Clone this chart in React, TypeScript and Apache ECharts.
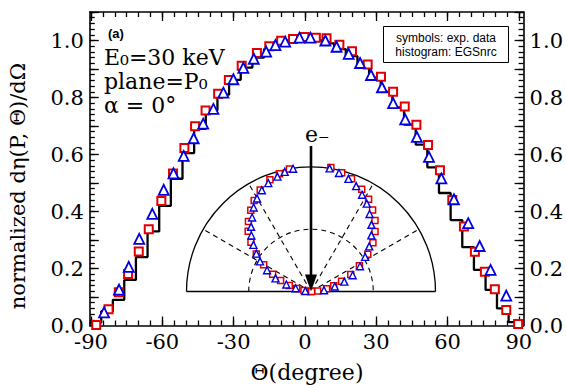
import React, { useEffect, useRef } from "react";
import * as echarts from "echarts";

// Experimental data (red squares)
const redDeg = [-87.8, -82.6, -78.3, -74.4, -69.9, -65.7, -60.4, -55.5, -50.7, -46.2, -41.8, -36.5, -32.0, -26.6, -20.2, -15.0, -10.0, -5.0, -0.2, 4.6, 9.1, 14.5, 19.8, 26.4, 32.0, 37.1, 42.0, 46.9, 51.8, 56.8, 62.0, 66.9, 71.5, 75.7, 79.9, 84.7, 89.7];
const redVal = [0.002, 0.057, 0.117, 0.181, 0.26, 0.338, 0.437, 0.533, 0.623, 0.699, 0.754, 0.813, 0.861, 0.911, 0.956, 0.98, 0.999, 1.005, 1.012, 1.01, 1.008, 0.985, 0.962, 0.916, 0.873, 0.82, 0.768, 0.704, 0.633, 0.545, 0.44, 0.347, 0.259, 0.189, 0.127, 0.054, 0.005];

// Experimental data (blue triangles)
const blueDeg = [-84.5, -78.2, -74.1, -69.7, -64.2, -59.4, -55.3, -51.0, -46.8, -42.8, -38.5, -34.3, -30.1, -25.9, -21.5, -16.3, -12.4, -8.3, -2.3, 2.3, 8.6, 13.3, 18.4, 23.2, 27.8, 32.4, 37.1, 42.2, 47.1, 52.2, 57.4, 62.7, 68.7, 73.5, 78.1, 84.7];
const blueVal = [0.046, 0.126, 0.206, 0.304, 0.392, 0.476, 0.534, 0.595, 0.657, 0.708, 0.76, 0.817, 0.864, 0.904, 0.936, 0.961, 0.984, 0.996, 1.01, 1.01, 1.0, 0.978, 0.953, 0.921, 0.879, 0.836, 0.78, 0.723, 0.662, 0.592, 0.516, 0.443, 0.359, 0.279, 0.195, 0.105];

// EGSnrc histogram: bin edges and bin heights
const histEdges = [-90.6, -85.7, -80.8, -76.0, -71.1, -66.2, -61.3, -56.4, -51.5, -46.6, -41.7, -36.8, -31.9, -27.0, -22.1, -17.2, -12.3, -7.4, -2.5, 2.5, 7.4, 12.3, 17.2, 22.1, 27.0, 31.9, 36.8, 41.7, 46.6, 51.5, 56.4, 61.3, 66.2, 71.1, 76.0, 80.8, 85.7, 90.6];
const histVal = [0.01, 0.05, 0.09, 0.16, 0.24, 0.33, 0.42, 0.515, 0.605, 0.69, 0.755, 0.81, 0.862, 0.905, 0.94, 0.97, 0.99, 1.0, 1.0, 1.0, 0.99, 0.97, 0.945, 0.91, 0.87, 0.82, 0.765, 0.705, 0.635, 0.555, 0.465, 0.37, 0.275, 0.195, 0.125, 0.06, 0.012];

const xTickLabels = [-90, -60, -30, 0, 30, 60, 90];
const yTickLabels = [0, 0.2, 0.4, 0.6, 0.8, 1.0];

const SERIF = "DejaVu Serif";
const SANS = "Liberation Sans";

export default function App() {
  const ref = useRef<HTMLDivElement>(null);
  useEffect(() => {
    document.body.style.margin = "0";
    const chart = echarts.init(ref.current!, null, { renderer: "svg" });

    const X0 = -90.5, X1 = 92;
    const xMinor: number[] = [];
    for (let t = -90; t <= 90; t += 5) xMinor.push(t);
    const yMajor: number[] = [];
    for (let i = 0; i <= 11; i++) yMajor.push(Math.round(i * 10) / 100);
    const yMinor: number[] = [];
    for (let i = 0; i <= 55; i++) yMinor.push(Math.round(i * 2) / 100);

    const black = "#000";
    const lineStyle = { color: black, width: 1.6 };

    const xBase = (pos: string, major: boolean, labels: boolean) => ({
      type: "value",
      gridIndex: 0,
      position: pos,
      min: X0,
      max: X1,
      splitLine: { show: false },
      axisLine: { show: major, onZero: false, lineStyle },
      axisTick: { show: true, inside: true, length: major ? 9 : 5, customValues: major ? xTickLabels : xMinor, lineStyle: { color: black, width: 1.3 } },
      axisLabel: labels
        ? { show: true, customValues: xTickLabels, formatter: (v: number) => String(v), fontFamily: SERIF, fontSize: 21, color: black, margin: 6 }
        : { show: false },
    });
    const yBase = (pos: string, major: boolean, labels: boolean) => ({
      type: "value",
      gridIndex: 0,
      position: pos,
      min: 0,
      max: 1.1,
      splitLine: { show: false },
      axisLine: { show: major, onZero: false, lineStyle },
      axisTick: { show: true, inside: true, length: major ? 9 : 5, customValues: major ? yMajor : yMinor, lineStyle: { color: black, width: 1.3 } },
      axisLabel: labels
        ? { show: true, customValues: yTickLabels, formatter: (v: number) => v.toFixed(1), fontFamily: SERIF, fontSize: 21, color: black, margin: 6 }
        : { show: false },
    });

    // inset geometry
    const cx = 311, cy = 291.5, R = 124.5;
    const toPolar = (deg: number[], val: number[]) =>
      deg.map((d, i) => {
        const a = (d * Math.PI) / 180;
        return [val[i] * Math.sin(a), val[i] * Math.cos(a)];
      });

    const radial = [-60, -30, 30, 60].map((a) => {
      const r = (a * Math.PI) / 180;
      return {
        type: "line",
        shape: { x1: cx, y1: cy, x2: cx + R * Math.sin(r), y2: cy - R * Math.cos(r) },
        style: { stroke: black, lineWidth: 1.1, lineDash: [5, 4] },
        z: 1,
      };
    });

    const txt = (text: string, x: number, y: number, size: number, family: string, extra: any = {}) => ({
      type: "text",
      x,
      y,
      z: 10,
      style: { text, fontSize: size, fontFamily: family, fill: black, textAlign: "left", textVerticalAlign: "middle", ...extra },
    });

    chart.setOption({
      animation: false,
      backgroundColor: "#fff",
      grid: [
        { left: 89.8, right: 41.2, top: 12, bottom: 59.5, containLabel: false },
        { left: cx - R, width: 2 * R, top: cy - R, height: R, containLabel: false },
      ],
      xAxis: [
        xBase("bottom", true, true),
        xBase("bottom", false, false),
        xBase("top", true, false),
        xBase("top", false, false),
        { type: "value", gridIndex: 1, min: -1, max: 1, show: false },
      ],
      yAxis: [
        yBase("left", true, true),
        yBase("left", false, false),
        yBase("right", true, true),
        yBase("right", false, false),
        { type: "value", gridIndex: 1, min: 0, max: 1, show: false },
      ],
      series: [
        {
          type: "line",
          step: "end",
          xAxisIndex: 0,
          yAxisIndex: 0,
          showSymbol: false,
          symbol: "none",
          data: histEdges.map((e, i) => [e, histVal[Math.min(i, histVal.length - 1)]]),
          lineStyle: { color: black, width: 2.3 },
          z: 2,
        },
        {
          type: "scatter",
          xAxisIndex: 0,
          yAxisIndex: 0,
          symbol: "rect",
          symbolSize: 8,
          data: redDeg.map((d, i) => [d, redVal[i]]),
          itemStyle: { color: "#fff", borderColor: "#e00000", borderWidth: 2, opacity: 1 },
          z: 3,
        },
        {
          type: "scatter",
          xAxisIndex: 0,
          yAxisIndex: 0,
          symbol: "triangle",
          symbolSize: 10,
          data: blueDeg.map((d, i) => [d, blueVal[i]]),
          itemStyle: { color: "#fff", borderColor: "#0000e0", borderWidth: 1.8, opacity: 1 },
          z: 4,
        },
        {
          type: "scatter",
          xAxisIndex: 4,
          yAxisIndex: 4,
          symbol: "rect",
          symbolSize: 6,
          data: toPolar(redDeg, redVal),
          itemStyle: { color: "#fff", borderColor: "#e00000", borderWidth: 1.5, opacity: 1 },
          z: 3,
        },
        {
          type: "scatter",
          xAxisIndex: 4,
          yAxisIndex: 4,
          symbol: "triangle",
          symbolSize: 7,
          data: toPolar(blueDeg, blueVal),
          itemStyle: { color: "#fff", borderColor: "#0000e0", borderWidth: 1.4, opacity: 1 },
          z: 4,
        },
      ],
      graphic: [
        { type: "arc", shape: { cx, cy, r: R, startAngle: Math.PI, endAngle: 2 * Math.PI, clockwise: true }, style: { stroke: black, lineWidth: 1.3, fill: "none" }, z: 1 },
        { type: "arc", shape: { cx, cy, r: R / 2, startAngle: Math.PI, endAngle: 2 * Math.PI, clockwise: true }, style: { stroke: black, lineWidth: 1.1, fill: "none", lineDash: [5, 4] }, z: 1 },
        { type: "line", shape: { x1: cx - R, y1: cy, x2: cx + R, y2: cy }, style: { stroke: black, lineWidth: 1.3 }, z: 1 },
        ...radial,
        { type: "line", shape: { x1: cx, y1: 146, x2: cx, y2: cy - 10 }, style: { stroke: black, lineWidth: 2.6 }, z: 20 },
        { type: "polygon", shape: { points: [[cx - 6, cy - 17], [cx + 6, cy - 17], [cx, cy]] }, style: { fill: black }, z: 20 },
        txt("e\u208B", 305, 134, 22, SERIF),
        // legend box
        { type: "rect", shape: { x: 383.5, y: 26.5, width: 125, height: 36 }, style: { stroke: black, lineWidth: 1, fill: "#fff" }, z: 9 },
        txt("symbols: exp. data", 446, 38, 12, SANS, { textAlign: "center" }),
        txt("histogram: EGSnrc", 446, 52, 12, SANS, { textAlign: "center" }),
        // annotations
        txt("(a)", 108, 33, 13, SANS, { fontWeight: "bold" }),
        txt("E\u2080=30 keV", 104, 57, 22, SERIF),
        txt("plane=P\u2080", 104, 81, 22, SERIF),
        txt("\u03B1 = 0\u00B0", 104, 105, 22, SERIF),
        // axis titles
        txt("\u0398(degree)", 307, 372, 22, SERIF, { textAlign: "center" }),
        { type: "text", x: 18, y: 186, rotation: Math.PI / 2, z: 10, style: { text: "normalized d\u03B7(P, \u0398)/d\u03A9", fontSize: 21, fontFamily: SERIF, fill: black, textAlign: "center", textVerticalAlign: "middle" } },
      ],
    });

    return () => chart.dispose();
  }, []);
  return <div ref={ref} style={{ position: "fixed", left: 0, top: 0, width: 566, height: 385 }} />;
}
